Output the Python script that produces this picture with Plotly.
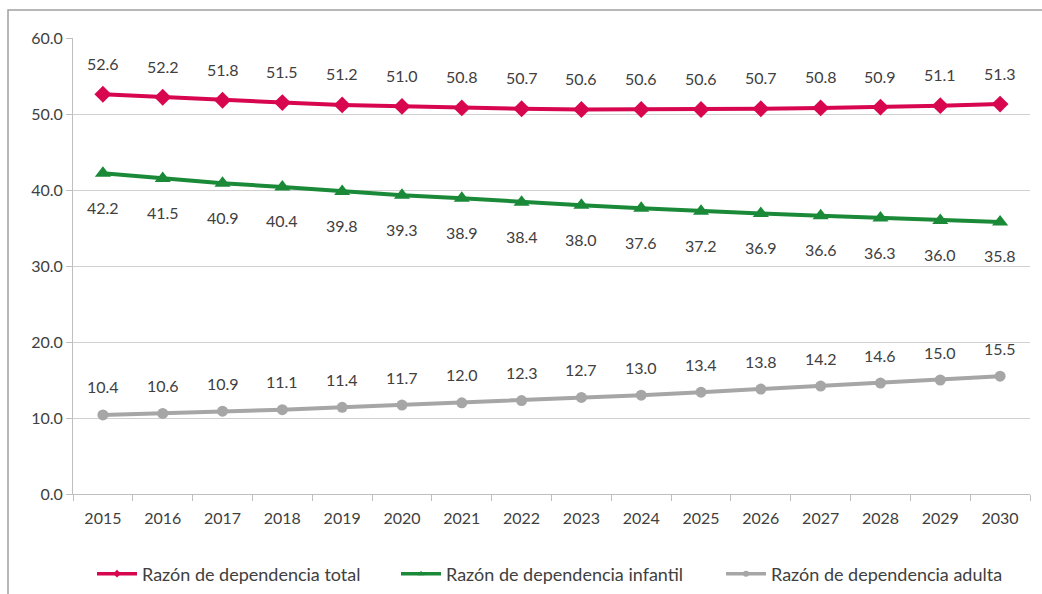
import plotly.graph_objects as go

years = [str(y) for y in range(2015, 2031)]
total = [52.6, 52.2, 51.8, 51.5, 51.2, 51.0, 50.8, 50.7, 50.6, 50.6, 50.6, 50.7, 50.8, 50.9, 51.1, 51.3]
infantil = [42.2, 41.5, 40.9, 40.4, 39.8, 39.3, 38.9, 38.4, 38.0, 37.6, 37.2, 36.9, 36.6, 36.3, 36.0, 35.8]
adulta = [10.4, 10.6, 10.9, 11.1, 11.4, 11.7, 12.0, 12.3, 12.7, 13.0, 13.4, 13.8, 14.2, 14.6, 15.0, 15.5]
names = ["Razón de dependencia total", "Razón de dependencia infantil", "Razón de dependencia adulta"]

FONT = "Lato"
TXT = "#404040"
W, H = 1042, 594

fig = go.Figure()
series = [
    (total, names[0], "#D7064F", "diamond", 13, 31, "legend", 98),
    (infantil, names[1], "#1A8A38", "triangle-up", 14, -34, "legend2", 402),
    (adulta, names[2], "#A6A6A6", "circle", 11, 28, "legend3", 727),
]
annotations = []
legends = {}
for vals, name, col, sym, ms, shift, lg, lx in series:
    fig.add_trace(go.Scatter(
        x=years, y=vals, name=name, mode="lines+markers", showlegend=False,
        line=dict(color=col, width=4),
        marker=dict(symbol=sym, size=ms, color=col),
        cliponaxis=False,
    ))
    fig.add_trace(go.Scatter(
        x=[None], y=[None], name=name, mode="lines+markers", legend=lg,
        line=dict(color=col, width=3.5),
        marker=dict(symbol=sym, size=6, color=col),
    ))
    legends[lg] = dict(orientation="h", xref="container", yref="container",
                       x=(lx - 6) / W, xanchor="left", y=(H - 574) / H, yanchor="middle",
                       font=dict(family=FONT, size=18, color=TXT), itemwidth=40,
                       bgcolor="rgba(0,0,0,0)")
    for i, v in enumerate(vals):
        annotations.append(dict(x=i, y=v, xref="x", yref="y", text=f"{v:.1f}",
                                showarrow=False, yshift=shift,
                                font=dict(family=FONT, size=16, color=TXT)))

fig.update_layout(
    width=W, height=H,
    margin=dict(l=73, r=12, t=38, b=100),
    plot_bgcolor="white", paper_bgcolor="white",
    font=dict(family=FONT, size=16, color=TXT),
    showlegend=True,
    annotations=annotations,
    xaxis=dict(type="category", range=[-0.5, 15.5], autorange=False, automargin=False,
               showgrid=False, showline=True, linecolor="#BFBFBF",
               linewidth=1, ticks="outside", tickson="boundaries", ticklen=6,
               ticklabelstandoff=10,
               tickcolor="#BFBFBF", tickfont=dict(family=FONT, size=16, color=TXT)),
    yaxis=dict(range=[0, 60], autorange=False, automargin=False, dtick=10, tickformat=".1f",
               showgrid=True, gridcolor="#D0D0D0", gridwidth=1, showline=True,
               linecolor="#BFBFBF", ticks="outside", ticklen=6, tickcolor="#BFBFBF",
               zeroline=False, tickfont=dict(family=FONT, size=16, color=TXT)),
    shapes=[dict(type="rect", xref="paper", yref="paper",
                 x0=-65/957, x1=1.1, y0=-0.4, y1=1 + 28/456,
                 line=dict(color="#A0A0A0", width=1.5), fillcolor="rgba(0,0,0,0)")],
    **legends,
)

fig.write_html("out.html", config={"displayModeBar": False},
               post_script="document.body.style.margin='0';")
